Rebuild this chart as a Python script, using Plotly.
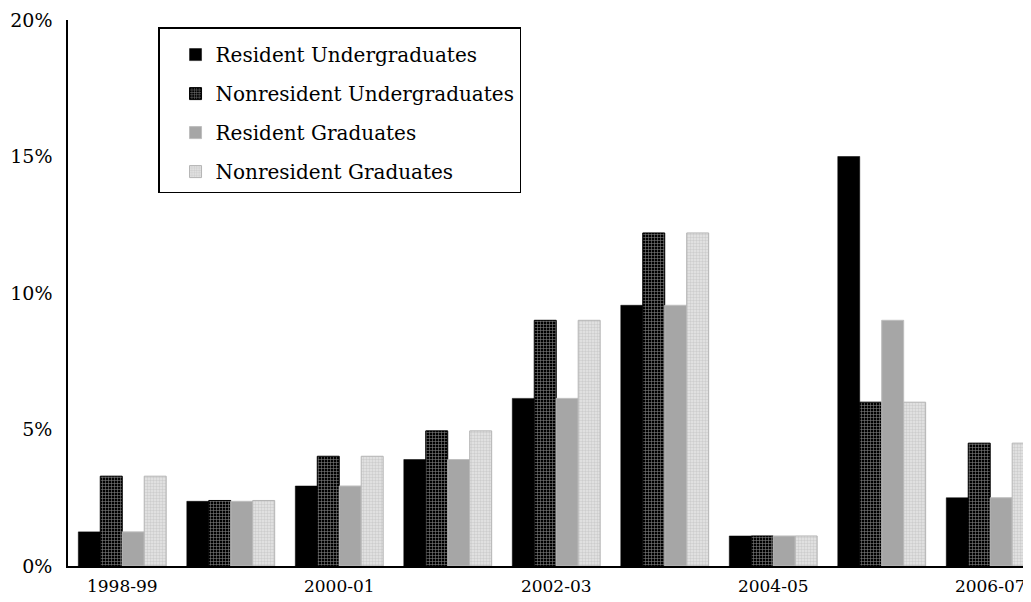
import plotly.graph_objects as go

years = ["1998-99", "1999-00", "2000-01", "2001-02", "2002-03",
         "2003-04", "2004-05", "2005-06", "2006-07"]
resident_ug = [1.25, 2.37, 2.93, 3.9, 6.14, 9.55, 1.1, 15.0, 2.5]
nonresident_ug = [3.29, 2.4, 4.02, 4.95, 9.0, 12.2, 1.1, 6.0, 4.5]
resident_grad = [1.25, 2.37, 2.93, 3.9, 6.14, 9.55, 1.1, 9.0, 2.5]
nonresident_grad = [3.29, 2.4, 4.02, 4.95, 9.0, 12.2, 1.1, 6.0, 4.5]
tick_years = ["1998-99", "2000-01", "2002-03", "2004-05", "2006-07"]
y_ticks = [0, 5, 10, 15, 20]

FONT = "DejaVu Serif"

fig = go.Figure()
fig.add_trace(go.Bar(
    x=years, y=resident_ug, name="Resident Undergraduates",
    legendgroup="a",
    marker=dict(color="black", line=dict(color="black", width=0.5)),
))
fig.add_trace(go.Bar(
    x=years, y=nonresident_ug, name="Nonresident Undergraduates",
    legendgroup="b",
    marker=dict(color="black", line=dict(color="black", width=1),
                pattern=dict(shape="+", bgcolor="black", fgcolor="white",
                             size=3, solidity=0.35, fillmode="overlay")),
))
fig.add_trace(go.Bar(
    x=years, y=resident_grad, name="Resident Graduates",
    legendgroup="c",
    marker=dict(color="#a6a6a6", line=dict(color="#bdbdbd", width=1)),
))
fig.add_trace(go.Bar(
    x=years, y=nonresident_grad, name="Nonresident Graduates",
    legendgroup="d",
    marker=dict(color="#d8d8d8", line=dict(color="#b4b4b4", width=1),
                pattern=dict(shape=".", bgcolor="#e6e6e6", fgcolor="#b4b4b4",
                             size=3, solidity=0.5, fillmode="overlay")),
))

# The page body adds an 8px offset; margins compensate for it.
fig.update_layout(
    width=1023, height=594,
    margin=dict(l=60, r=0, t=12, b=36),
    paper_bgcolor="white", plot_bgcolor="white",
    barmode="group", bargap=0.19, bargroupgap=0,
    font=dict(family=FONT, size=18, color="black"),
    showlegend=True,
    legend=dict(
        x=0.0935, y=0.987, xanchor="left", yanchor="top",
        bgcolor="white", bordercolor="black", borderwidth=1.5,
        font=dict(family=FONT, size=20, color="black"),
        traceorder="grouped", tracegroupgap=10,
        indentation=16,
        title=dict(text="\u00a0", font=dict(size=5)),
    ),
)
fig.update_xaxes(
    type="category", range=[-0.5, 8.376], automargin=False,
    tickmode="array", tickvals=tick_years, ticktext=tick_years,
    showline=True, linecolor="black", linewidth=1.5,
    ticks="", showgrid=False, zeroline=False,
    tickfont=dict(family=FONT, size=17),
    ticklabelstandoff=4,
)
fig.update_yaxes(
    range=[0, 20], tickmode="array", tickvals=y_ticks, automargin=False,
    ticktext=[f"{v}%" for v in y_ticks],
    showline=True, linecolor="black", linewidth=1.5,
    ticks="", showgrid=False, zeroline=False,
    tickfont=dict(family=FONT, size=19),
    ticklabelstandoff=10,
)

fig.write_html("out.html")
